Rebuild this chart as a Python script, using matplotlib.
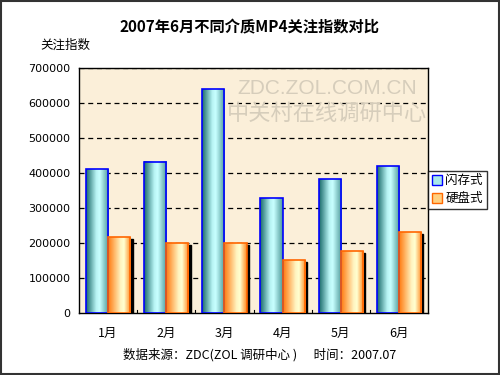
import matplotlib.pyplot as plt
import numpy as np
from matplotlib.colors import LinearSegmentedColormap
from matplotlib.patches import Rectangle

plt.rcParams['font.family'] = ['Noto Sans CJK SC', 'DejaVu Sans']

months = ['1月', '2月', '3月', '4月', '5月', '6月']
flash = [411000, 431000, 639000, 328000, 382000, 419000]
hdd = [216000, 199000, 199000, 151000, 176000, 231000]
series_names = ['闪存式', '硬盘式']

flash_cmap = LinearSegmentedColormap.from_list(
    'flash', [(0, '#1a6a6a'), (0.45, '#b8f4f4'), (0.6, '#c8ffff'), (1, '#4e9a9a')])
hdd_cmap = LinearSegmentedColormap.from_list(
    'hdd', [(0, '#ff7a10'), (0.55, '#fff4c0'), (0.7, '#ffffd0'), (1, '#ff8a20')])


def gradient_bar(ax, x0, w, h, cmap, edge):
    grad = np.linspace(0, 1, 64).reshape(1, -1)
    ax.imshow(grad, cmap=cmap, extent=(x0, x0 + w, 0, h), aspect='auto', zorder=3)
    ax.add_patch(Rectangle((x0, 0), w, h, fill=False, edgecolor=edge, lw=1.2, zorder=4))


def main():
    fig = plt.figure(figsize=(5, 3.75), dpi=100)
    ax = fig.add_axes([0.158, 0.165, 0.698, 0.654])
    ax.set_facecolor('#fbefd9')

    w = 0.38
    x = np.arange(len(months))
    for i in x:
        # shadow behind hard disk bar
        ax.add_patch(Rectangle((i + 0.04, 0), w, hdd[i] - 4000,
                               color='black', zorder=2))
        gradient_bar(ax, i - w, w, flash[i], flash_cmap, '#0000ff')
        gradient_bar(ax, i, w, hdd[i], hdd_cmap, '#ff6600')

    ax.set_xlim(-0.5, 5.5)
    ax.set_ylim(0, 700000)
    ax.set_yticks(range(0, 700001, 100000))
    ax.set_yticklabels([str(v) for v in range(0, 700001, 100000)], fontsize=8,
                       family='DejaVu Sans')
    for yv in range(100000, 700001, 100000):
        ax.axhline(yv, color='black', ls=(0, (4, 3)), lw=0.9, zorder=1)
    ax.set_xticks(x)
    ax.set_xticklabels(months, fontsize=9)
    ax.tick_params(axis='x', length=0, pad=10)
    ax.tick_params(axis='y', length=0, pad=6)
    for b in np.arange(0.5, 5.5, 1):
        ax.plot([b, b], [0, 8000], color='black', lw=0.8, zorder=5)
    for s in ax.spines.values():
        s.set_linewidth(1.0)

    # watermark
    ax.text(0.71, 0.915, 'ZDC.ZOL.COM.CN', transform=ax.transAxes, fontsize=15,
            color='#d6cdbb', ha='center', va='center', zorder=1.5,
            family='Liberation Sans', clip_on=True)
    ax.text(0.71, 0.815, '中关村在线调研中心', transform=ax.transAxes, fontsize=16,
            color='#d6cdbb', ha='center', va='center', zorder=1.5, clip_on=True)

    fig.text(0.5, 0.928, '2007年6月不同介质MP4关注指数对比', ha='center',
             va='center', fontsize=11, fontweight='bold')
    fig.text(0.08, 0.88, '关注指数', fontsize=9, va='center')
    fig.text(0.52, 0.053, '数据来源：ZDC(ZOL 调研中心 )      时间：2007.07',
             ha='center', va='center', fontsize=9)

    handles = [Rectangle((0, 0), 1, 1, facecolor='#a8e8e8', edgecolor='#0000ff'),
               Rectangle((0, 0), 1, 1, facecolor='#ffd080', edgecolor='#ff6600')]
    leg = fig.legend(handles, series_names, loc='upper left',
                     bbox_to_anchor=(0.856, 0.545), fontsize=9, frameon=True,
                     fancybox=False, edgecolor='black', handlelength=0.8,
                     handleheight=0.8, handletextpad=0.3, borderpad=0.3,
                     labelspacing=0.4, borderaxespad=0)
    leg.get_frame().set_linewidth(1.0)

    fig.add_artist(Rectangle((0.002, 0.003), 0.995, 0.994, transform=fig.transFigure,
                             fill=False, edgecolor='#333333', lw=1.5))
    fig.savefig('out.png', dpi=100)


if __name__ == "__main__":
    main()
